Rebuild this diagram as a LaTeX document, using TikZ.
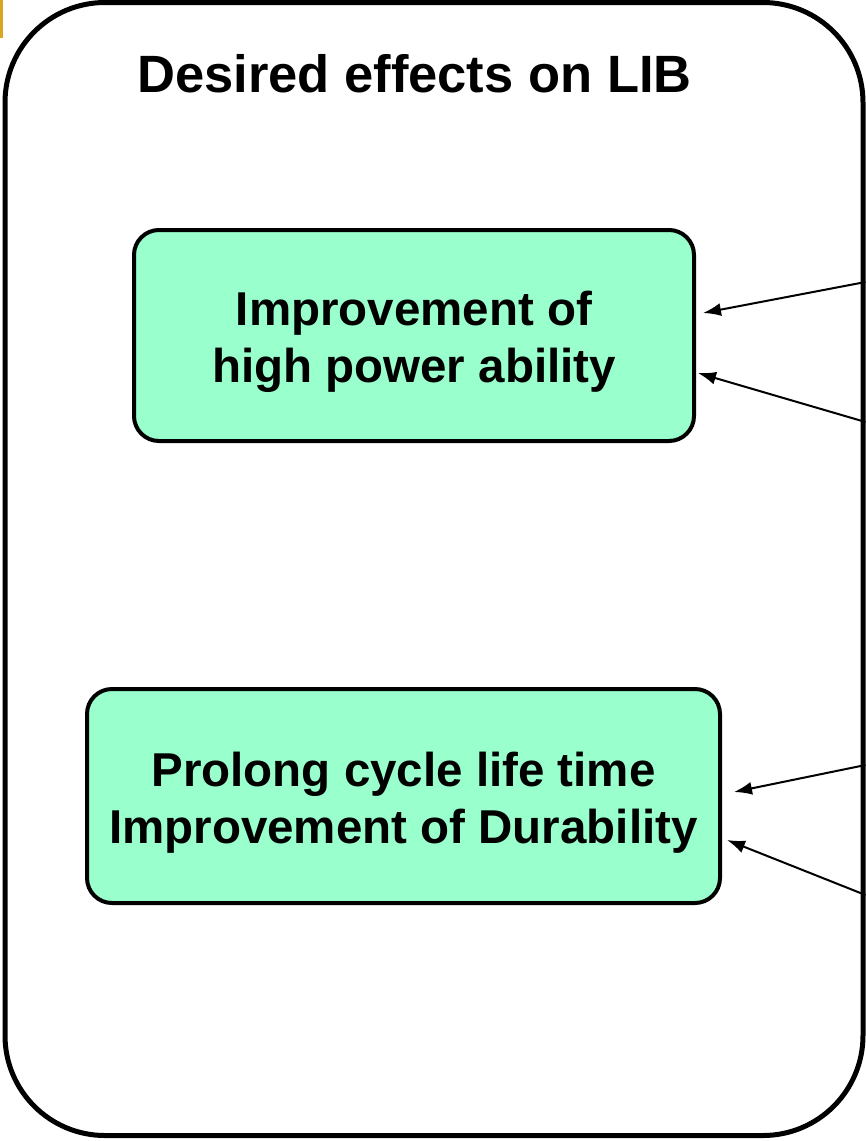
\documentclass[tikz,border=0pt]{standalone}
\usepackage{fontspec}
\setmainfont{Liberation Sans}
\usepackage{xcolor}
\usepackage{tikz}
\usetikzlibrary{arrows.meta, positioning, calc}
\definecolor{effMint}{RGB}{153,255,204}
\definecolor{effGold}{RGB}{218,165,32}

\begin{document}
\begin{tikzpicture}[x=1pt, y=-1pt,
    frame/.style={draw, line width=5pt, rounded corners=100pt, minimum width=858pt, minimum height=1133pt, inner sep=0pt},
    effbox/.style={draw, line width=4pt, fill=effMint, rounded corners=25pt, align=center, inner sep=0pt,
      font=\fontsize{47.5}{57}\selectfont\bfseries},
    arr/.style={-{Latex[length=18pt, width=13pt]}, line width=2pt}]
  \useasboundingbox (0,0) rectangle (866,1141);

  % Gold mark + outer frame
  \fill[effGold] (0,0) rectangle (3,38);
  \node[frame] (frame) at (434,569) {};
  \node[anchor=base, font=\fontsize{52.5}{60}\selectfont\bfseries] (title) at (414.5,92) {Desired effects on LIB};

  % Effect boxes
  \node[effbox, minimum width=560pt, minimum height=211pt] (power) at (414,335.5)
    {\rule{0pt}{47pt}Improvement of\\high power ability};
  \node[effbox, minimum width=633pt, minimum height=214pt] (life) at (403.5,796)
    {\rule{0pt}{47pt}Prolong cycle life time\\Improvement of Durability};

  % Incoming arrows from the right edge
  \coordinate (p1) at (frame.east |- 0,282);
  \coordinate (p2) at (frame.east |- 0,422);
  \coordinate (l1) at (frame.east |- 0,765);
  \coordinate (l2) at (frame.east |- 0,895);
  \draw[arr] (p1) -- ($(power.east)+(7,-22.5)$);
  \draw[arr] (p2) -- ($(power.east)+(2,37.5)$);
  \draw[arr] (l1) -- ($(life.east)+(12,-4)$);
  \draw[arr] (l2) -- ($(life.east)+(5,44)$);
\end{tikzpicture}
\end{document}
